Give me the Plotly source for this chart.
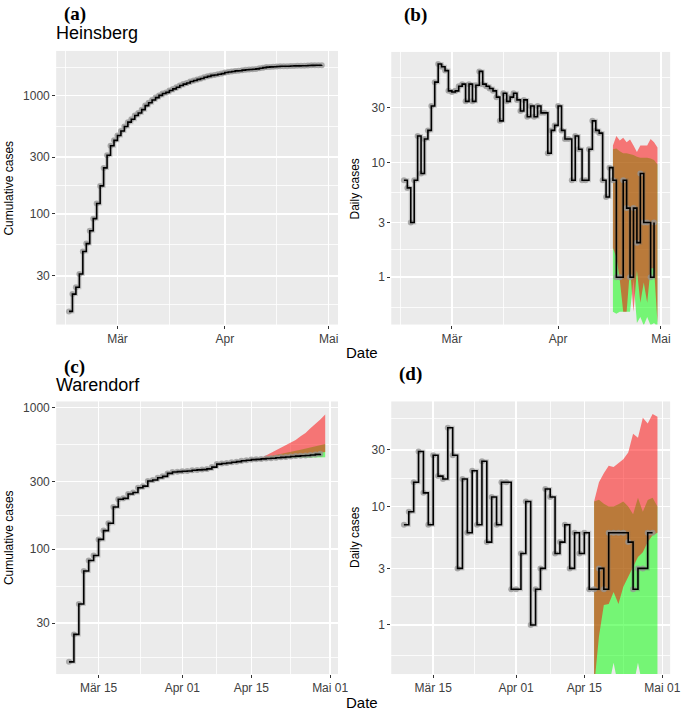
import plotly.graph_objects as go
import pandas as pd

# ---------------- data ----------------
heinsberg_start = "2020-02-16"
heinsberg_daily = [7, 6, 3, 7, 17, 8, 16, 19, 31, 50,
                   72, 68, 63, 42, 41, 42, 46, 48, 34, 48,
                   34, 47, 62, 48, 46, 44, 42, 37, 23, 40,
                   34, 37, 40, 35, 28, 35, 25, 31, 25, 31,
                   27, 27, 12, 19, 21, 31, 19, 16, 16, 7,
                   17, 13, 7, 7, 13, 23, 19, 18, 7, 5,
                   9, 7, 1, 1, 7, 4, 1, 4, 2, 8,
                   3, 3, 1, 3]
heinsberg_cum = [15, 21, 24, 31, 48, 56, 72, 91, 122, 172,
                 244, 312, 375, 417, 458, 500, 546, 594, 628, 676,
                 710, 757, 819, 867, 913, 957, 999, 1036, 1059, 1099,
                 1133, 1170, 1210, 1245, 1273, 1308, 1333, 1364, 1389, 1420,
                 1447, 1474, 1486, 1505, 1526, 1557, 1576, 1592, 1608, 1615,
                 1632, 1645, 1652, 1659, 1672, 1695, 1714, 1732, 1739, 1744,
                 1753, 1760, 1761, 1762, 1769, 1773, 1774, 1778, 1780, 1788,
                 1791, 1794, 1795, 1798]

warendorf_start = "2020-03-09"
warendorf_daily = [7, 9, 16, 29, 13, 7, 27, 18, 17, 46, 27, 3, 17, 6, 20, 7, 24, 5,
                   12, 7, 16, 16, 2, 2, 4, 11, 1, 2, 3, 14, 12, 4, 5, 7, 3, 6,
                   4, 6, 2, 2, 3, 2, 6, 6, 6, 6, 5, 2, 3, 3, 6, 6]
warendorf_cum = [16, 25, 41, 70, 83, 90, 117, 135, 152, 198, 225, 228, 245, 251,
                 271, 278, 302, 307, 319, 326, 342, 350, 352, 354, 356, 360, 362,
                 364, 368, 379, 398, 402, 405, 410, 414, 420, 424, 428, 430, 433,
                 436, 438, 441, 444, 447, 450, 453, 456, 458, 461, 466, 471]

forecast_start = "2020-04-17"
# Heinsberg daily forecast bands
hb_red_hi = [14, 17, 15.5, 16.4, 15, 15.8, 14, 12.3, 14, 14, 14, 16, 15, 13.5]
hb_red_lo = [1.8, 1.5, 0.95, 0.5, 0.5, 1.2, 0.5, 1.15, 0.6, 0.9, 0.6, 1.2, 1.2, 0.4]
hb_green_hi = [13, 13.2, 12.5, 12, 12, 11.8, 11.6, 11.2, 11, 11, 11, 10.8, 10.5, 9.6]
hb_green_lo = [0.5, 0.48, 0.5, 0.5, 0.5, 0.5, 0.95, 0.4, 0.45, 0.38, 0.45, 0.38, 0.4, 0.37]
# Warendorf daily forecast bands
wd_red_hi = [11, 16, 19, 22, 21.5, 23, 25, 28.5, 41, 38, 56, 50, 60, 57]
wd_red_lo = [0.3, 0.8, 1.47, 1.5, 1.9, 1.5, 2.1, 2.55, 3.1, 3.75, 4.1, 5.0, 5.7, 6.0]
wd_green_hi = [11, 11.4, 10.5, 10, 10, 10.4, 11, 10, 8.6, 11.8, 9, 11.3, 11.8, 10]
wd_green_lo = [0.3, 0.3, 0.3, 0.3, 0.48, 0.3, 0.3, 0.3, 0.3, 0.48, 0.3, 0.3, 0.3, 0.3]
# Warendorf cumulative forecast bands
wc_red_hi = [440, 458, 477, 497, 517, 538, 562, 588, 625, 660, 712, 760, 820, 890]
wc_red_lo = [438, 439, 441, 443, 446, 449, 452, 456, 460, 464, 468, 473, 479, 485]
wc_green_hi = [440, 448, 456, 463, 470, 478, 486, 494, 502, 512, 521, 530, 541, 552]
wc_green_lo = [436, 436, 437, 437, 438, 439, 439, 440, 441, 442, 442, 443, 444, 445]

ticks_cum = [30, 100, 300, 1000]
ticks_daily = [1, 3, 10, 30]
month_ticks = ["2020-03-01", "2020-04-01", "2020-05-01"]
month_labels = ["Mär", "Apr", "Mai"]
half_ticks = ["2020-03-15", "2020-04-01", "2020-04-15", "2020-05-01"]
half_labels = ["Mär 15", "Apr 01", "Apr 15", "Mai 01"]

# ---------------- figure ----------------
W, H = 690, 713
hb_dates = pd.date_range(heinsberg_start, periods=len(heinsberg_daily), freq="D")
wd_dates = pd.date_range(warendorf_start, periods=len(warendorf_daily), freq="D")
fc_dates = pd.date_range(forecast_start, periods=len(hb_red_hi), freq="D")

fig = go.Figure()


def band(dates, lo, hi, color, xa, ya):
    fig.add_trace(go.Scatter(x=dates, y=lo, mode="lines", line=dict(width=0),
                             xaxis=xa, yaxis=ya, hoverinfo="skip", showlegend=False))
    fig.add_trace(go.Scatter(x=dates, y=hi, mode="lines", line=dict(width=0),
                             fill="tonexty", fillcolor=color,
                             xaxis=xa, yaxis=ya, hoverinfo="skip", showlegend=False))


def obs(dates, vals, xa, ya):
    fig.add_trace(go.Scatter(x=dates, y=vals, mode="lines",
                             line=dict(color="rgba(110,110,110,0.30)", width=4, shape="hv"),
                             xaxis=xa, yaxis=ya, hoverinfo="skip", showlegend=False))
    fig.add_trace(go.Scatter(x=dates, y=vals, mode="markers",
                             marker=dict(color="rgba(150,150,150,0.75)", size=6, line=dict(width=0)),
                             xaxis=xa, yaxis=ya, hoverinfo="skip", showlegend=False))
    fig.add_trace(go.Scatter(x=dates, y=vals, mode="lines",
                             line=dict(color="black", width=1.6, shape="hv"),
                             xaxis=xa, yaxis=ya, hoverinfo="skip", showlegend=False))


GREEN = "rgba(0,255,0,0.5)"
RED = "rgba(255,0,0,0.5)"

# (a)
obs(hb_dates, heinsberg_cum, "x", "y")
# (b)
band(fc_dates, hb_green_lo, hb_green_hi, GREEN, "x2", "y2")
band(fc_dates, hb_red_lo, hb_red_hi, RED, "x2", "y2")
obs(hb_dates, heinsberg_daily, "x2", "y2")
# (c)
band(fc_dates, wc_green_lo, wc_green_hi, GREEN, "x3", "y3")
band(fc_dates, wc_red_lo, wc_red_hi, RED, "x3", "y3")
obs(wd_dates, warendorf_cum, "x3", "y3")
# (d)
band(fc_dates, wd_green_lo, wd_green_hi, GREEN, "x4", "y4")
band(fc_dates, wd_red_lo, wd_red_hi, RED, "x4", "y4")
obs(wd_dates, warendorf_daily, "x4", "y4")


def xdom(l, r):
    return [l / W, r / W]


def ydom(t, b):
    return [1 - b / H, 1 - t / H]


tickfont = dict(family="Liberation Sans, Arial, sans-serif", size=12, color="#404040")
base_axis = dict(showgrid=True, gridcolor="white", gridwidth=1.6, zeroline=False,
                 showline=False, ticks="outside", ticklen=3, tickwidth=1,
                 tickcolor="#333333", tickfont=tickfont, fixedrange=True)

ab_range = [pd.Timestamp(heinsberg_start) - pd.Timedelta(hours=3.7 * 24),
            pd.Timestamp("2020-04-30") + pd.Timedelta(hours=3.7 * 24)]
cd_range = [pd.Timestamp(warendorf_start) - pd.Timedelta(hours=2.6 * 24),
            pd.Timestamp("2020-04-30") + pd.Timedelta(hours=2.6 * 24)]

minor_ab = dict(tickmode="array", tickvals=["2020-02-15", "2020-03-16", "2020-04-16"],
                showgrid=True, gridcolor="white", gridwidth=0.8, ticks="")
minor_cd = dict(tickmode="array", tickvals=["2020-03-23 12:00", "2020-04-08", "2020-04-23"],
                showgrid=True, gridcolor="white", gridwidth=0.8, ticks="")

layout_axes = {}
layout_axes["xaxis"] = dict(base_axis, type="date", domain=xdom(57, 343), anchor="y",
                            range=ab_range, tickmode="array", tickvals=month_ticks,
                            ticktext=month_labels, minor=minor_ab)
layout_axes["xaxis2"] = dict(base_axis, type="date", domain=xdom(397, 680), anchor="y2",
                             range=ab_range, tickmode="array", tickvals=month_ticks,
                             ticktext=month_labels, minor=minor_ab)
layout_axes["xaxis3"] = dict(base_axis, type="date", domain=xdom(57, 343), anchor="y3",
                             range=cd_range, tickmode="array", tickvals=half_ticks,
                             ticktext=half_labels, minor=minor_cd)
layout_axes["xaxis4"] = dict(base_axis, type="date", domain=xdom(397, 680), anchor="y4",
                             range=cd_range, tickmode="array", tickvals=half_ticks,
                             ticktext=half_labels, minor=minor_cd)

minor_cum = dict(tickmode="array", tickvals=[17.3, 54.8, 173, 548, 1733],
                 showgrid=True, gridcolor="white", gridwidth=0.8, ticks="")
minor_daily = dict(tickmode="array", tickvals=[0.548, 1.73, 5.48, 17.3, 54.8],
                   showgrid=True, gridcolor="white", gridwidth=0.8, ticks="")

layout_axes["yaxis"] = dict(base_axis, type="log", domain=ydom(50, 324), anchor="x",
                            range=[1.065, 3.375], tickmode="array", tickvals=ticks_cum,
                            ticktext=[str(v) for v in ticks_cum], minor=minor_cum)
layout_axes["yaxis2"] = dict(base_axis, type="log", domain=ydom(51, 324), anchor="x2",
                             range=[-0.412, 1.962], tickmode="array", tickvals=ticks_daily,
                             ticktext=[str(v) for v in ticks_daily], minor=minor_daily)
layout_axes["yaxis3"] = dict(base_axis, type="log", domain=ydom(401, 674), anchor="x3",
                             range=[1.118, 3.042], tickmode="array", tickvals=ticks_cum,
                             ticktext=[str(v) for v in ticks_cum], minor=minor_cum)
layout_axes["yaxis4"] = dict(base_axis, type="log", domain=ydom(401, 674), anchor="x4",
                             range=[-0.414, 1.885], tickmode="array", tickvals=ticks_daily,
                             ticktext=[str(v) for v in ticks_daily], minor=minor_daily)

SANS = "Liberation Sans, Arial, sans-serif"
SERIF = "Liberation Serif, Times New Roman, serif"


def ann(text, px, py, size, family=SANS, xanchor="left", angle=0):
    return dict(text=text, x=px / W, y=1 - py / H, xref="paper", yref="paper",
                xanchor=xanchor, yanchor="middle", showarrow=False, textangle=angle,
                font=dict(family=family, size=size, color="black"))


annotations = [
    ann("<b>(a)</b>", 63, 13, 19, SERIF),
    ann("Heinsberg", 55, 32, 18),
    ann("<b>(b)</b>", 408, 14, 19, SERIF),
    ann("<b>(c)</b>", 63, 367, 19, SERIF),
    ann("Warendorf", 55, 385, 18),
    ann("<b>(d)</b>", 403, 374, 19, SERIF),
    ann("Date", 367, 352, 15, xanchor="center"),
    ann("Date", 367, 702, 15, xanchor="center"),
    ann("Cumulative cases", 9, 187, 12, xanchor="center", angle=-90),
    ann("Cumulative cases", 9, 537, 12, xanchor="center", angle=-90),
    ann("Daily cases", 360, 188, 12, xanchor="center", angle=-90),
    ann("Daily cases", 360, 537, 12, xanchor="center", angle=-90),
]

fig.update_layout(width=W, height=H, autosize=False,
                  margin=dict(l=0, r=0, t=0, b=0),
                  paper_bgcolor="white", plot_bgcolor="#EBEBEB",
                  showlegend=False, annotations=annotations, **layout_axes)

fig.write_html("out.html", config={"displayModeBar": False, "staticPlot": True},
               post_script="document.body.style.margin='0px';document.body.style.overflow='hidden';")
